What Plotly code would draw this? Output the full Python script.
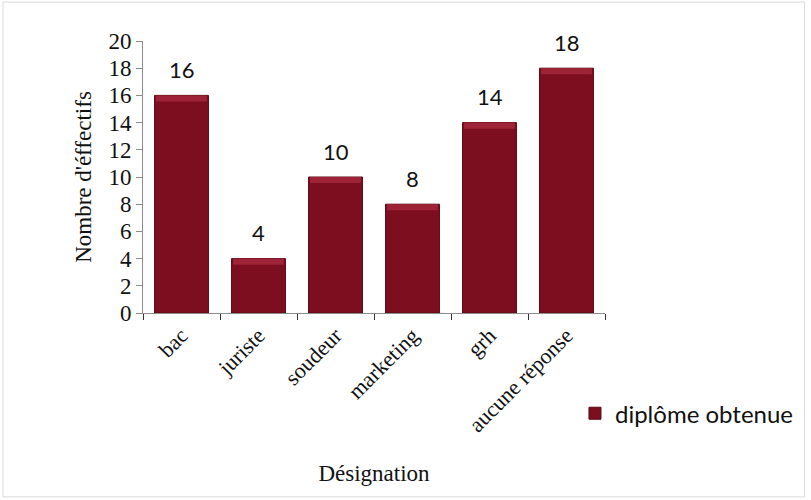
import plotly.graph_objects as go

# Diplômes obtenus par les effectifs
categories = ["bac", "juriste", "soudeur", "marketing", "grh", "aucune réponse"]
effectifs = [16, 4, 10, 8, 14, 18]
y_ticks = [0, 2, 4, 6, 8, 10, 12, 14, 16, 18, 20]

BAR = "#7D0E1F"
BEVEL = "#9E2336"
AXIS = "#8C8C8C"
SERIF = "Liberation Serif, Times New Roman, serif"
SANS = "Lato, Open Sans, sans-serif"
BEVEL_DEPTH = 0.45  # in axis units

fig = go.Figure()
fig.add_trace(go.Bar(
    x=categories,
    y=effectifs,
    name="diplôme obtenue",
    marker=dict(color=BAR, line=dict(color="#5C0914", width=1)),
))
# lighter bevel strip along the top of each bar
fig.add_trace(go.Bar(
    x=categories,
    y=[BEVEL_DEPTH] * len(effectifs),
    base=[v - BEVEL_DEPTH for v in effectifs],
    width=0.66,
    marker=dict(color=BEVEL, line=dict(width=0)),
    showlegend=False, hoverinfo="skip",
))

# value labels above each bar
for c, v in zip(categories, effectifs):
    fig.add_annotation(x=c, y=v, text=str(v), showarrow=False,
                       yshift=26, font=dict(family=SANS, size=22, color="#111"))

# light frame around the whole chart
fig.add_shape(type="rect", xref="paper", yref="paper",
              x0=-0.303, x1=1.432, y0=-0.676, y1=1.143,
              line=dict(color="#D9D9D9", width=1), fillcolor="rgba(0,0,0,0)")

fig.update_layout(
    width=811, height=500,
    margin=dict(l=143, r=203, t=41, b=187),
    paper_bgcolor="white", plot_bgcolor="white",
    barmode="overlay",
    bargap=0.3,
    showlegend=True,
    legend=dict(x=0.935, y=-0.37, xanchor="left", yanchor="middle",
                font=dict(family=SANS, size=24, color="#111"),
                bgcolor="rgba(0,0,0,0)"),
    xaxis=dict(
        showline=True, linecolor=AXIS, linewidth=1,
        ticks="outside", tickson="boundaries", ticklen=6, tickcolor="#333",
        tickangle=-45,
        tickfont=dict(family=SERIF, size=22, color="#111"),
        title=dict(text="Désignation", font=dict(family=SERIF, size=23, color="#111"),
                   standoff=28),
    ),
    yaxis=dict(
        range=[0, 20], tickvals=y_ticks,
        showline=True, linecolor=AXIS, linewidth=1,
        ticks="outside", ticklen=6, tickcolor=AXIS,
        showgrid=False, zeroline=False,
        tickfont=dict(family=SERIF, size=23, color="#111"),
        title=dict(text="Nombre d'éffectifs", font=dict(family=SERIF, size=23, color="#111"),
                   standoff=10),
    ),
)

fig.write_html("out.html")
